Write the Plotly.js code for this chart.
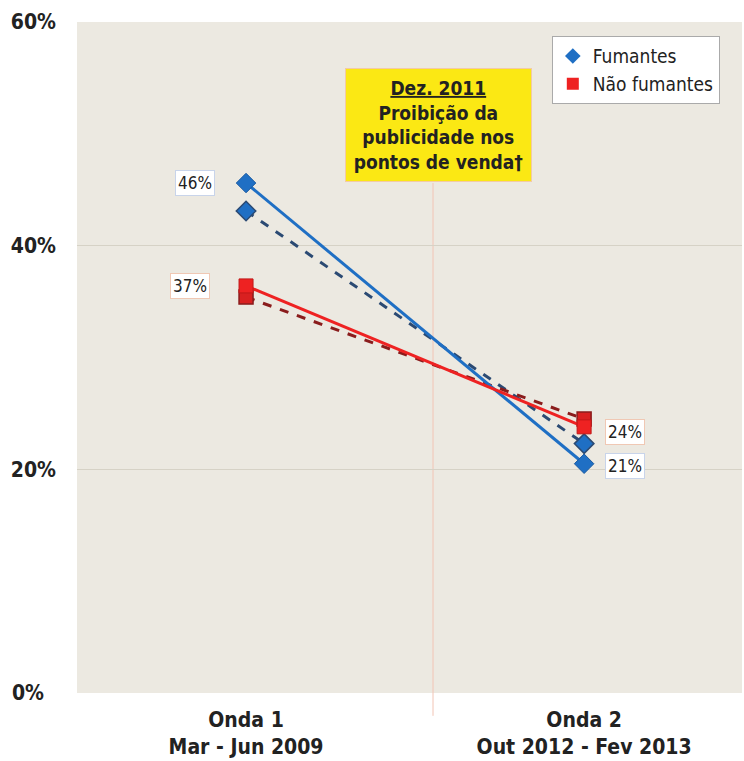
<!DOCTYPE html>
<html>
<head>
<meta charset="utf-8">
<script src="https://cdn.plot.ly/plotly-3.0.1.min.js"></script>
<style>html,body{margin:0;padding:0;background:#fff;}#chart{width:744px;height:761px;}</style>
</head>
<body>
<div id="chart"></div>
<script>
// Data
var waves = [0, 1];
var waveLabels = ["<b>Onda 1</b><br><b>Mar - Jun 2009</b>", "<b>Onda 2</b><br><b>Out 2012 - Fev 2013</b>"];
var fumantes = [45.6, 20.5];
var fumantesDashed = [43.1, 22.3];
var naoFumantes = [36.4, 23.8];
var naoFumantesDashed = [35.4, 24.5];
var fumantesLabels = ["46%", "21%"];
var naoFumantesLabels = ["37%", "24%"];
var yTicks = [0, 20, 40, 60];
var yTickText = ["<b>0%</b>\u00a0\u00a0", "<b>20%</b>", "<b>40%</b>", "<b>60%</b>"];
var banX = 0.553;

var font = "'DejaVu Sans Condensed', 'DejaVu Sans', sans-serif";
var blue = "#1f6fc4", red = "#ee2222", navy = "#2b4a73", darkred = "#8a1c1c";

var traces = [
  {x: waves, y: fumantesDashed, mode: "lines+markers", showlegend: false,
   line: {color: navy, width: 3, dash: "dash"},
   marker: {symbol: "diamond", size: 15, color: blue, line: {color: navy, width: 1.5}}},
  {x: waves, y: naoFumantesDashed, mode: "lines+markers", showlegend: false,
   line: {color: darkred, width: 3, dash: "dash"},
   marker: {symbol: "square", size: 14, color: "#d92020", line: {color: darkred, width: 1.5}}},
  {x: waves, y: fumantes, mode: "lines+markers", showlegend: false,
   line: {color: blue, width: 3},
   marker: {symbol: "diamond", size: 15, color: blue, line: {color: "#1a5aa0", width: 1}}},
  {x: waves, y: naoFumantes, mode: "lines+markers", showlegend: false,
   line: {color: red, width: 3},
   marker: {symbol: "square", size: 14, color: red, line: {color: "#c01818", width: 1}}},
  {x: [null], y: [null], mode: "markers", name: "Fumantes",
   marker: {symbol: "diamond", size: 12, color: blue}},
  {x: [null], y: [null], mode: "markers", name: "Não fumantes",
   marker: {symbol: "square", size: 12, color: red}}
];

var annotations = [];
for (var i = 0; i < waves.length; i++) {
  annotations.push({x: waves[i], y: fumantes[i], xref: "x", yref: "y", text: fumantesLabels[i],
    showarrow: false, xshift: i === 0 ? -51 : 41, yshift: i === 0 ? 0 : -2,
    bgcolor: "#ffffff", bordercolor: "#c8d4ea", borderwidth: 1, borderpad: 2,
    font: {family: font, size: 17, color: "#222"}});
  annotations.push({x: waves[i], y: naoFumantes[i], xref: "x", yref: "y", text: naoFumantesLabels[i],
    showarrow: false, xshift: i === 0 ? -56 : 41, yshift: i === 0 ? 0 : -5,
    bgcolor: "#ffffff", bordercolor: "#f0c8b4", borderwidth: 1, borderpad: 2,
    font: {family: font, size: 17, color: "#222"}});
}
annotations.push({x: banX, y: 0.931, xref: "x", yref: "paper", yanchor: "top", xshift: 5,
  text: "<b><u>Dez. 2011</u></b><br><b>Proibição da</b><br><b>publicidade nos</b><br><b>pontos de venda†</b>",
  showarrow: false, bgcolor: "#fbe814", bordercolor: "#f3cba4", borderwidth: 1, borderpad: 6,
  width: 173, height: 100,
  font: {family: font, size: 19, color: "#222"}, align: "center"});

var layout = {
  width: 744, height: 761,
  margin: {l: 77, r: 2, t: 22, b: 68},
  paper_bgcolor: "#ffffff", plot_bgcolor: "#ece9e1",
  font: {family: font, color: "#222"},
  xaxis: {range: [-0.5, 1.467], tickvals: waves, ticktext: waveLabels, showgrid: false, zeroline: false,
          showline: false, ticks: "", ticklabelstandoff: 12, tickfont: {family: font, size: 21, color: "#222"}, fixedrange: true},
  yaxis: {range: [0, 60], tickvals: yTicks, ticktext: yTickText, showgrid: true, gridcolor: "#d6d2c6", gridwidth: 1.5,
          zeroline: false, showline: false, ticks: "", ticklabelstandoff: 20,
          tickfont: {family: font, size: 21, color: "#222"}},
  legend: {x: 0.714, y: 0.979, xanchor: "left", yanchor: "top", bgcolor: "#ffffff", bordercolor: "#aaaaaa",
           borderwidth: 1, font: {family: font, size: 19, color: "#222"}, tracegroupgap: 0, itemwidth: 30},
  shapes: [{type: "line", xref: "x", yref: "paper", x0: banX, x1: banX, y0: -0.034, y1: 0.76,
            line: {color: "#f2c4b4", width: 1}, layer: "below"}],
  annotations: annotations
};

Plotly.newPlot("chart", traces, layout, {displayModeBar: false, staticPlot: true});
</script>
</body>
</html>
